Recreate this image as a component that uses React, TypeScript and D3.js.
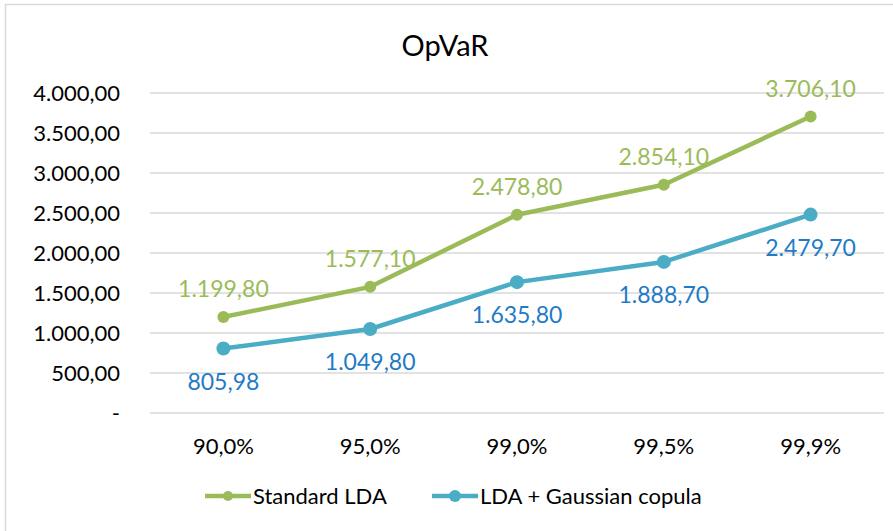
import { useEffect, useRef } from 'react';
import * as d3 from 'd3';

const categories = ['90,0%', '95,0%', '99,0%', '99,5%', '99,9%'];
const standardLDA = [1199.8, 1577.1, 2478.8, 2854.1, 3706.1];
const gaussianCopula = [805.98, 1049.8, 1635.8, 1888.7, 2479.7];
const yTicks = [0, 500, 1000, 1500, 2000, 2500, 3000, 3500, 4000];

const GREEN = '#9bbb59';
const BLUE = '#4bacc6';
const BLUE_TEXT = '#1f7bc6';
const FONT = 'Lato, "Open Sans", sans-serif';

// 1.234,56 style numbers
const fmt = (v: number) => {
  const [int, dec] = v.toFixed(2).split('.');
  return int.replace(/\B(?=(\d{3})+(?!\d))/g, '.') + ',' + dec;
};

const App = () => {
  const svgRef = useRef<SVGSVGElement>(null);

  useEffect(() => {
    const svg = d3.select(svgRef.current);
    svg.selectAll('*').remove();

    const left = 150, right = 884, top = 93, bottom = 413;

    // chart frame
    svg.append('rect')
      .attr('x', 5.5).attr('y', 4.5)
      .attr('width', 920).attr('height', 560)
      .attr('fill', '#fff').attr('stroke', '#d9d9d9').attr('stroke-width', 1.5);

    const x = d3.scaleBand().domain(categories).range([left, right]);
    const y = d3.scaleLinear().domain([0, 4000]).range([bottom, top]);

    // gridlines
    svg.append('g').selectAll('line')
      .data(yTicks)
      .enter().append('line')
      .attr('x1', left).attr('x2', right)
      .attr('y1', d => y(d)).attr('y2', d => y(d))
      .attr('stroke', '#d9d9d9').attr('stroke-width', 1.5);

    // y labels
    svg.append('g').selectAll('text')
      .data(yTicks)
      .enter().append('text')
      .attr('x', 120).attr('y', d => y(d))
      .attr('dy', '0.35em')
      .attr('text-anchor', 'end')
      .style('font-family', FONT).style('font-size', '22px').attr('fill', '#000')
      .text(d => (d === 0 ? '-' : fmt(d)));

    // x labels
    svg.append('g').selectAll('text')
      .data(categories)
      .enter().append('text')
      .attr('x', d => x(d)! + x.bandwidth() / 2).attr('y', 446)
      .attr('dy', '0.35em')
      .attr('text-anchor', 'middle')
      .style('font-family', FONT).style('font-size', '22px').attr('fill', '#000')
      .text(d => d);

    // title
    svg.append('text')
      .attr('x', 445).attr('y', 46).attr('dy', '0.35em')
      .attr('text-anchor', 'middle')
      .style('font-family', FONT).style('font-size', '29px').attr('fill', '#000')
      .text('OpVaR');

    const cx = (i: number) => x(categories[i])! + x.bandwidth() / 2;
    const line = d3.line<number>().x((d, i) => cx(i)).y(d => y(d));

    const series = [
      { values: standardLDA, color: GREEN, text: GREEN, r: 6, dy: -28 },
      { values: gaussianCopula, color: BLUE, text: BLUE_TEXT, r: 7, dy: 33 },
    ];

    series.forEach(s => {
      svg.append('path')
        .datum(s.values)
        .attr('d', line)
        .attr('fill', 'none')
        .attr('stroke', s.color)
        .attr('stroke-width', 4.5)
        .attr('stroke-linejoin', 'round');

      svg.append('g').selectAll('circle')
        .data(s.values)
        .enter().append('circle')
        .attr('cx', (d, i) => cx(i)).attr('cy', d => y(d))
        .attr('r', s.r).attr('fill', s.color);

      svg.append('g').selectAll('text')
        .data(s.values)
        .enter().append('text')
        .attr('x', (d, i) => cx(i)).attr('y', d => y(d) + s.dy)
        .attr('dy', '0.35em')
        .attr('text-anchor', 'middle')
        .style('font-family', FONT).style('font-size', '23px')
        .attr('fill', s.text)
        .text(d => fmt(d));
    });

    // legend
    const legend = [
      { label: 'Standard LDA', color: GREEN, x: 205, r: 5 },
      { label: 'LDA + Gaussian copula', color: BLUE, x: 432, r: 6 },
    ];
    legend.forEach(l => {
      const g = svg.append('g').attr('transform', `translate(${l.x}, 496)`);
      g.append('line').attr('x1', 0).attr('x2', 46).attr('y1', 0).attr('y2', 0)
        .attr('stroke', l.color).attr('stroke-width', 4.5);
      g.append('circle').attr('cx', 23).attr('cy', 0).attr('r', l.r).attr('fill', l.color);
      g.append('text').attr('x', 48).attr('y', 0).attr('dy', '0.35em')
        .style('font-family', FONT).style('font-size', '22px').attr('fill', '#000')
        .text(l.label);
    });
  }, []);

  return (
    <svg ref={svgRef} width={893} height={531}
      style={{ position: 'absolute', left: 0, top: 0, background: '#fff' }} />
  );
};

export default App;
